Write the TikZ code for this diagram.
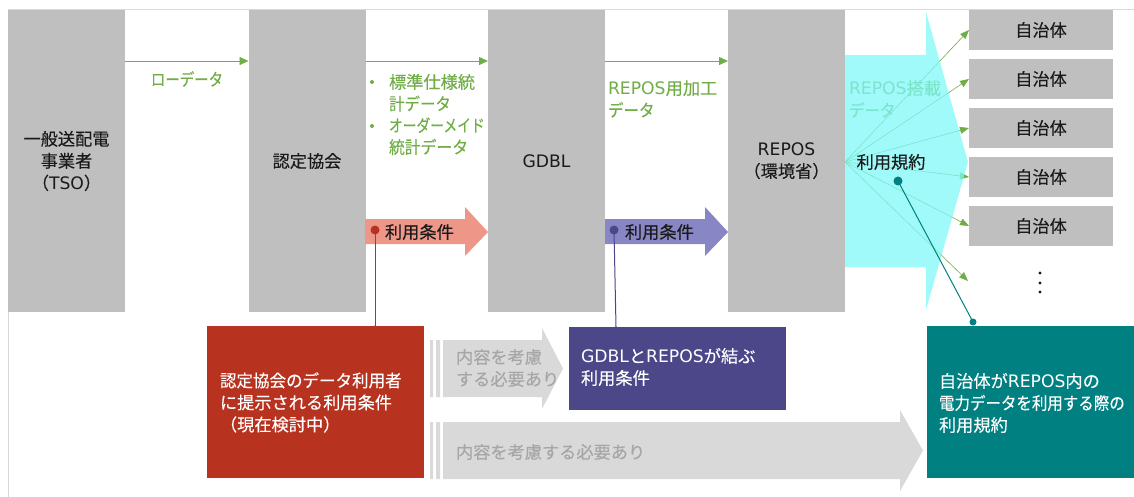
\documentclass[tikz,border=0pt]{standalone}
\usepackage{fontspec}
\usepackage{graphicx}
\setmainfont{Noto Sans CJK JP}[FakeBold=0.18]
\newfontfamily\latfont{DejaVu Sans}
\newcommand{\latw}[1]{{\latfont #1}}
\newcommand{\sqz}[2]{\scalebox{#1}[1]{#2}}
\usetikzlibrary{arrows.meta}
\definecolor{boxgray}{HTML}{BFBFBF}
\definecolor{framegray}{HTML}{D9D9D9}
\definecolor{grn}{HTML}{70AD47}
\definecolor{salmon}{HTML}{EE9687}
\definecolor{redc}{HTML}{B83220}
\definecolor{purpa}{HTML}{8986C5}
\definecolor{purpb}{HTML}{4B4789}
\definecolor{tealc}{HTML}{008080}
\definecolor{cyanc}{HTML}{80F8F8}
\definecolor{lgray}{HTML}{D9D9D9}
\definecolor{tgray}{HTML}{A6A6A6}
\definecolor{txt}{HTML}{1A1A1A}
\begin{document}
\begin{tikzpicture}[x=1pt,y=-1pt,
  every node/.style={inner sep=0pt,outer sep=0pt},
  jp/.style={font=\fontsize{17.2}{22}\selectfont},
  col/.style={jp,fill=boxgray,text=txt,minimum width=117,minimum height=302,align=center},
  muni/.style={jp,fill=boxgray,text=txt,minimum width=144,minimum height=40},
  garrow/.style={draw=grn,line width=0.8pt,-{Triangle[length=9pt,width=8pt]}},
  farrow/.style={draw=grn,line width=0.6pt,-{Triangle[length=9pt,width=7pt]}},
  conn/.style={line width=1pt}
]
\useasboundingbox (0,0) rectangle (1134,497);
% frame
\draw[framegray,line width=1pt] (8,497) -- (8,10) -- (1134,10);
% columns
\node[col] (tso) at (66.5,161) {一般送配電\\事業者\\（\latw{TSO}）};
\node[col] (nin) at (307,161) {認定協会};
\node[col] (gdbl) at (546.5,161) {\latw{GDBL}};
\node[col] (repos) at (786.5,161) {\latw{REPOS}\\（環境省）};
% municipalities
\node[muni] (j1) at (1041,30) {自治体};
\node[muni] (j2) at (1041,79) {自治体};
\node[muni] (j3) at (1041,128) {自治体};
\node[muni] (j4) at (1041,177) {自治体};
\node[muni] (j5) at (1041,226) {自治体};
\coordinate (j6) at (968,281);
\fill[txt] (1040,273) circle (1.6) (1040,283) circle (1.6) (1040,292) circle (1.6);
% green arrows
\draw[garrow] (tso.east |- 0,61) -- (nin.west |- 0,61);
\draw[garrow] (nin.east |- 0,61) -- (gdbl.west |- 0,61);
\draw[garrow] (gdbl.east |- 0,61) -- (repos.west |- 0,61);
\node[jp,text=grn] (raw) at (187,79) {\sqz{0.84}{ローデータ}};
\node[jp,text=grn,anchor=west,align=left,font=\fontsize{17.2}{21.7}\selectfont] (list) at (389,114.5) {標準仕様統\\\sqz{0.9}{計データ}\\\sqz{0.8}{オーダーメイド}\\\sqz{0.92}{統計データ}};
\fill[grn] (372,82) circle (2) (372,126) circle (2);
\node[jp,text=grn,anchor=west,align=left] (kako) at (608,99) {\latw{REPOS}用加工\\\sqz{0.9}{データ}};
% fan arrows
\coordinate (fan) at (845,162);
\draw[farrow] (fan) -- (j1.west);
\draw[farrow] (fan) -- (j2.west);
\draw[farrow] (fan) -- (j3.west);
\draw[farrow] (fan) -- (j4.west);
\draw[farrow] (fan) -- (j5.west);
\draw[farrow] (fan) -- (j6);
\node[jp,text=grn,anchor=west,align=left] (tosai) at (849,99) {\latw{REPOS}搭載\\\sqz{0.9}{データ}};
% cyan big arrow
\fill[cyanc,opacity=0.75] (845,55) -- (926,55) -- (926,12) -- (968,162) -- (926,310) -- (926,267) -- (845,267) -- cycle;
\node[jp,text=txt] (kiyaku) at (891,162) {利用規約};
% salmon arrow
\fill[salmon] (365,219) -- (465,219) -- (465,207) -- (488,232) -- (465,256) -- (465,244) -- (365,244) -- cycle;
\node[jp,text=txt,anchor=west] (jo1) at (385,232) {利用条件};
% purple arrow
\fill[purpa] (605,219) -- (705,219) -- (705,207) -- (728,232) -- (705,256) -- (705,244) -- (605,244) -- cycle;
\node[jp,text=txt,anchor=west] (jo2) at (625,232) {利用条件};
% lower boxes
\node[fill=redc,minimum width=217,minimum height=152] (redbox) at (315.5,402) {};
\node[jp,text=white,anchor=west,align=left] (redtxt) at (220,402.5) {\sqz{0.96}{認定協会のデータ利用者}\\に提示される利用条件\\（現在検討中）};
\node[fill=purpb,minimum width=217,minimum height=83] (purbox) at (677.5,368.5) {};
\node[jp,text=white,anchor=west,align=left] (purtxt) at (581,367) {\latw{GDBL}と\latw{REPOS}が結ぶ\\利用条件};
\node[fill=tealc,minimum width=207,minimum height=152] (tealbox) at (1030.5,402) {};
\node[jp,text=white,anchor=west,align=left] (tealtxt) at (939,403) {自治体が\latw{REPOS}内の\\\sqz{0.9}{電力データを利用する際の}\\利用規約};
% gray arrows
\fill[lgray] (430,340) rectangle (433,397) (436,340) rectangle (440,397);
\fill[lgray] (443,340) -- (542,340) -- (542,328) -- (563,368.5) -- (542,409) -- (542,397) -- (443,397) -- cycle;
\node[jp,text=tgray,anchor=west,align=left] (g1) at (456,368) {内容を考慮\\する必要あり};
\fill[lgray] (430,422) rectangle (433,479) (436,422) rectangle (440,479);
\fill[lgray] (443,422) -- (900,422) -- (900,410) -- (923,450.5) -- (900,491) -- (900,479) -- (443,479) -- cycle;
\node[jp,text=tgray,anchor=west] (g2) at (456,452) {内容を考慮する必要あり};
% connectors
\coordinate (rd1) at (375,230);
\coordinate (pd1) at (614,230);
\coordinate (td1) at (898,181);
\coordinate (td2) at (973,322);
\draw[conn,redc] (rd1) -- (redbox.north -| rd1);
\fill[redc] (rd1) circle (4.5);
\fill[redc] ([yshift=-3]redbox.north -| rd1) circle (3.5);
\draw[conn,purpb] (pd1) -- ([xshift=2]purbox.north -| pd1);
\fill[purpb] (pd1) circle (4.5);
\fill[purpb] ([yshift=-3,xshift=2]purbox.north -| pd1) circle (3.5);
\draw[conn,tealc] (td1) -- (td2);
\fill[tealc] (td1) circle (4.5);
\fill[tealc] (td2) circle (3.5);
\end{tikzpicture}
\end{document}
